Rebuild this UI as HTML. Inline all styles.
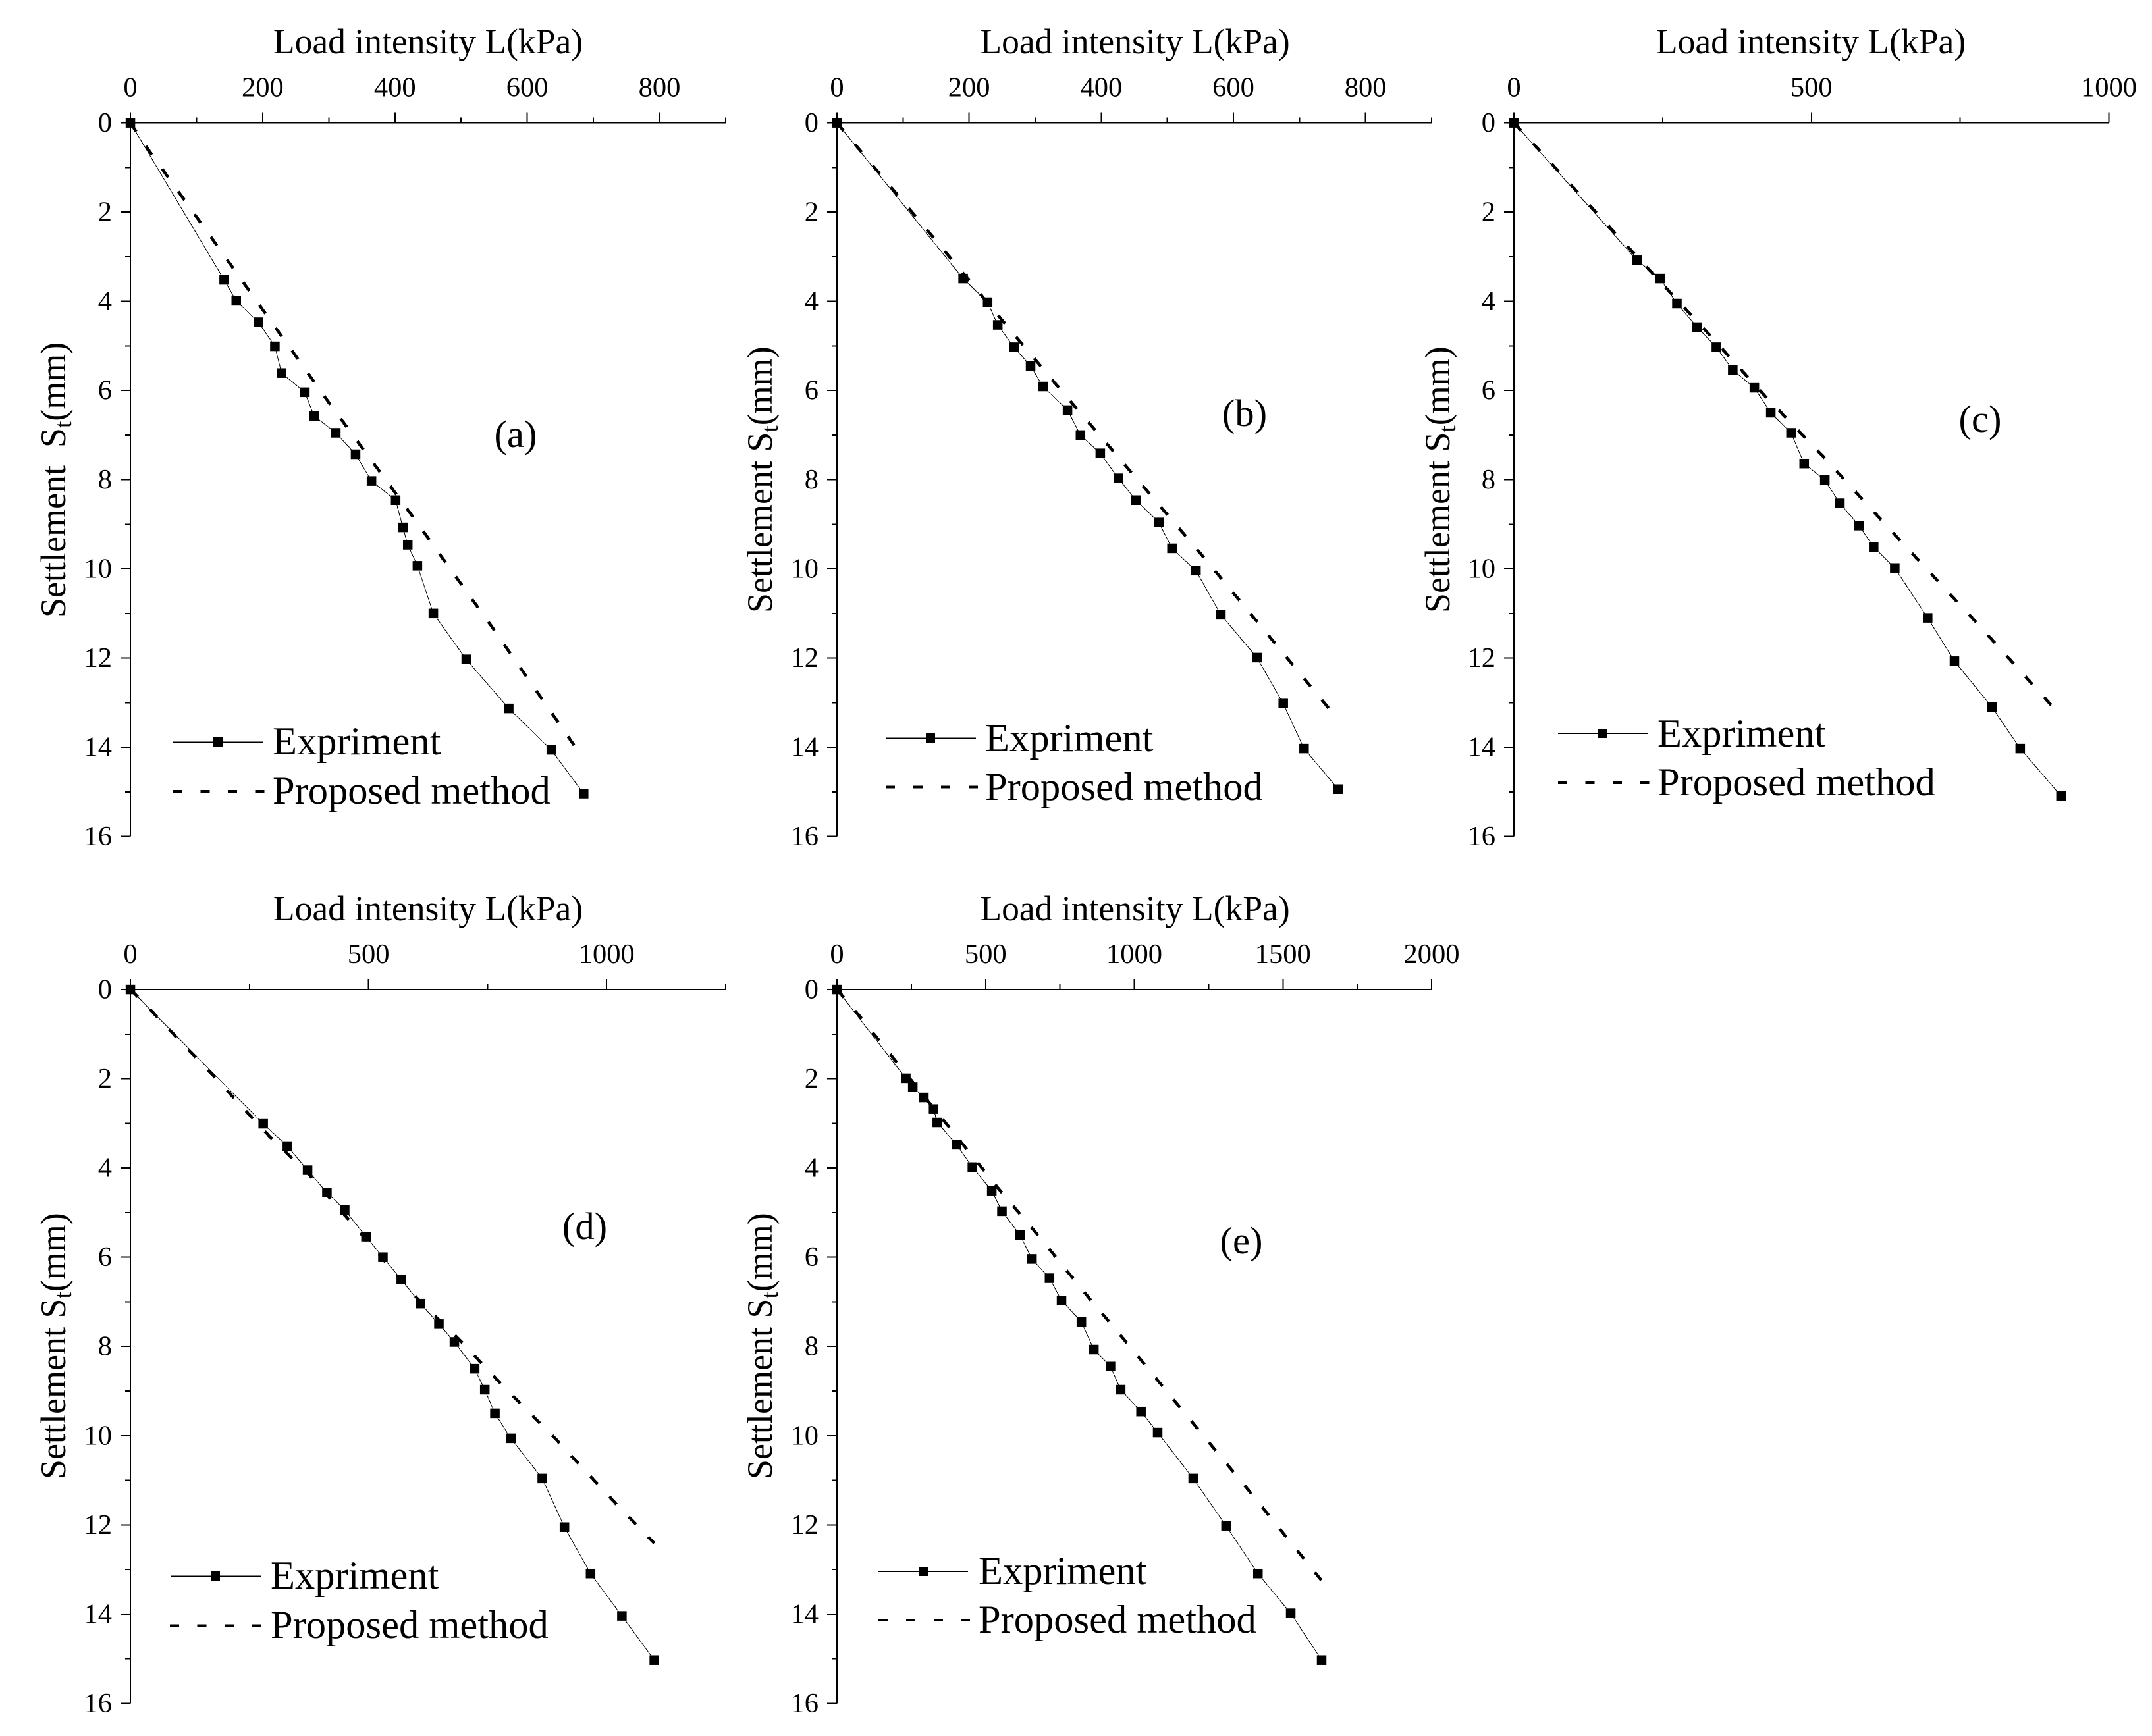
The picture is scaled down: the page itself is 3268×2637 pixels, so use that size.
<!DOCTYPE html>
<html lang="en">
<head>
<meta charset="utf-8">
<title>Load intensity versus settlement</title>
<style>
html,body{margin:0;padding:0;background:#fff;}
svg{display:block;}
text{font-family:"Liberation Serif",serif;fill:#000;white-space:pre;}
.title{font-size:53.6px;}
.ylabel{font-size:54px;}
.leg{font-size:60.5px;}
.tag{font-size:58.5px;}
.tick{font-size:42.5px;}
line,polyline{shape-rendering:crispEdges;}
</style>
</head>
<body>
<svg id="figure" xmlns="http://www.w3.org/2000/svg" width="3268" height="2637" viewBox="0 0 3268 2637">
  <rect x="0" y="0" width="3268" height="2637" fill="#fff"/>

  <g id="panel-a">
    <text class="title" x="650" y="81" text-anchor="middle">Load intensity L(kPa)</text>
    <text class="ylabel" transform="translate(99,938) rotate(-90)">Settlement  S<tspan dy="9" font-size="37">t</tspan><tspan dy="-9">(mm)</tspan></text>
    <text class="tag" x="783" y="679" text-anchor="middle">(a)</text>
    <g>
      <line x1="263" y1="1127" x2="400" y2="1127" stroke="#000" stroke-width="1.5"/>
      <rect x="324" y="1120" width="14" height="14" fill="#000"/>
      <text class="leg" x="414" y="1146">Expriment</text>
      <line x1="263" y1="1202" x2="402" y2="1202" stroke="#000" stroke-width="4.5" stroke-dasharray="14 27.5"/>
      <text class="leg" x="414" y="1221">Proposed method</text>
    </g>
  </g>

  <g id="panel-b">
    <text class="title" x="1723.5" y="81" text-anchor="middle">Load intensity L(kPa)</text>
    <text class="ylabel" transform="translate(1172,931) rotate(-90)">Settlement S<tspan dy="9" font-size="37">t</tspan><tspan dy="-9">(mm)</tspan></text>
    <text class="tag" x="1890" y="647" text-anchor="middle">(b)</text>
    <g>
      <line x1="1345" y1="1121" x2="1482" y2="1121" stroke="#000" stroke-width="1.5"/>
      <rect x="1406" y="1114" width="14" height="14" fill="#000"/>
      <text class="leg" x="1496" y="1141">Expriment</text>
      <line x1="1345" y1="1195.5" x2="1485" y2="1195.5" stroke="#000" stroke-width="3.6" stroke-dasharray="14 28"/>
      <text class="leg" x="1496" y="1215">Proposed method</text>
    </g>
  </g>

  <g id="panel-c">
    <text class="title" x="2750" y="81" text-anchor="middle">Load intensity L(kPa)</text>
    <text class="ylabel" transform="translate(2201,931) rotate(-90)">Settlement S<tspan dy="9" font-size="37">t</tspan><tspan dy="-9">(mm)</tspan></text>
    <text class="tag" x="3007" y="656" text-anchor="middle">(c)</text>
    <g>
      <line x1="2366" y1="1114" x2="2503" y2="1114" stroke="#000" stroke-width="1.5"/>
      <rect x="2427" y="1107" width="14" height="14" fill="#000"/>
      <text class="leg" x="2517" y="1134">Expriment</text>
      <line x1="2366" y1="1189" x2="2505" y2="1189" stroke="#000" stroke-width="3.6" stroke-dasharray="14 27.5"/>
      <text class="leg" x="2517" y="1208">Proposed method</text>
    </g>
  </g>

  <g id="panel-d">
    <text class="title" x="650" y="1398" text-anchor="middle">Load intensity L(kPa)</text>
    <text class="ylabel" transform="translate(99,2247) rotate(-90)">Settlement S<tspan dy="9" font-size="37">t</tspan><tspan dy="-9">(mm)</tspan></text>
    <text class="tag" x="888" y="1882" text-anchor="middle">(d)</text>
    <g>
      <line x1="260" y1="2394" x2="396" y2="2394" stroke="#000" stroke-width="1.5"/>
      <rect x="320" y="2387" width="14" height="14" fill="#000"/>
      <text class="leg" x="411" y="2413">Expriment</text>
      <line x1="258" y1="2469.5" x2="398" y2="2469.5" stroke="#000" stroke-width="4.5" stroke-dasharray="14 27.5"/>
      <text class="leg" x="411" y="2488">Proposed method</text>
    </g>
  </g>

  <g id="panel-e">
    <text class="title" x="1723.5" y="1398" text-anchor="middle">Load intensity L(kPa)</text>
    <text class="ylabel" transform="translate(1172,2247) rotate(-90)">Settlement S<tspan dy="9" font-size="37">t</tspan><tspan dy="-9">(mm)</tspan></text>
    <text class="tag" x="1885" y="1904" text-anchor="middle">(e)</text>
    <g>
      <line x1="1334" y1="2387" x2="1470" y2="2387" stroke="#000" stroke-width="1.5"/>
      <rect x="1395" y="2380" width="14" height="14" fill="#000"/>
      <text class="leg" x="1486" y="2406">Expriment</text>
      <line x1="1334" y1="2461" x2="1473" y2="2461" stroke="#000" stroke-width="3.6" stroke-dasharray="14 28"/>
      <text class="leg" x="1486" y="2480">Proposed method</text>
    </g>
  </g>
</svg>

<script>
/* Shared settlement axis */
const settlementTicks = [0, 2, 4, 6, 8, 10, 12, 14, 16];
const settlementMinorTicks = [1, 3, 5, 7, 9, 11, 13, 15];

/* Panel (a) */
const loadTicksA = [0, 200, 400, 600, 800];
const loadMinorTicksA = [100, 300, 500, 700, 900];
const expLoadA = [0, 141.7, 160, 193.6, 218.4, 228.6, 263.7, 277.6, 310.5, 340.4, 364.5, 401, 412, 419.3, 433.9, 458, 507.7, 572, 636.3, 685.2];
const expSettleA = [0, 3.52, 3.99, 4.47, 5.01, 5.61, 6.04, 6.57, 6.95, 7.43, 8.03, 8.46, 9.07, 9.46, 9.93, 11.0, 12.03, 13.13, 14.06, 15.04];
const proLoadA = [0, 29, 129, 300, 423, 546, 672];
const proSettleA = [0, 0.64, 2.71, 6.27, 8.75, 11.29, 13.98];

/* Panel (b) */
const loadTicksB = [0, 200, 400, 600, 800];
const loadMinorTicksB = [100, 300, 500, 700, 900];
const expLoadB = [0, 190.9, 228, 243.3, 267.8, 293, 311.8, 348.9, 368.5, 398.5, 425.8, 452.4, 487.3, 507, 543.3, 581, 635.6, 675.4, 706.9, 758.6];
const expSettleB = [0, 3.49, 4.02, 4.53, 5.03, 5.45, 5.91, 6.44, 7.0, 7.41, 7.97, 8.46, 8.96, 9.54, 10.04, 11.03, 11.99, 13.02, 14.03, 14.94];
const proLoadB = [0, 32.2, 142, 250.3, 330.7, 441, 551, 658, 745];
const proSettleB = [0, 0.57, 2.5, 4.43, 5.85, 7.76, 9.67, 11.58, 13.14];

/* Panel (c) */
const loadTicksC = [0, 500, 1000];
const loadMinorTicksC = [250, 750];
const expLoadC = [0, 206.8, 245.5, 273.9, 307.8, 340.2, 367.8, 404.1, 431.7, 465.7, 487.8, 522.5, 547.8, 580.1, 604.6, 640.1, 695.4, 740.4, 803.5, 850.9, 919.5];
const expSettleC = [0, 3.08, 3.49, 4.05, 4.58, 5.03, 5.54, 5.94, 6.5, 6.95, 7.64, 8.01, 8.53, 9.03, 9.51, 9.98, 11.1, 12.07, 13.1, 14.03, 15.09];
const proLoadC = [0, 39.5, 166.5, 324.4, 423, 517.8, 644, 774.3, 904];
const proSettleC = [0, 0.57, 2.42, 4.69, 6.14, 7.45, 9.29, 11.16, 13.07];

/* Panel (d) */
const loadTicksD = [0, 500, 1000];
const loadMinorTicksD = [250, 750, 1250];
const expLoadD = [0, 278.8, 329.5, 372, 412.6, 450, 494.7, 530.2, 568.7, 609.3, 647.8, 680.3, 722.9, 744.1, 765.4, 798.9, 864.8, 911.4, 966.2, 1032, 1100];
const expSettleD = [0, 3.01, 3.51, 4.05, 4.55, 4.94, 5.54, 6.0, 6.5, 7.04, 7.5, 7.9, 8.5, 8.97, 9.5, 10.06, 10.96, 12.05, 13.09, 14.04, 15.03];
const proLoadD = [0, 48.7, 170.3, 291, 375, 451, 608, 689, 775.6, 897, 1019, 1100];
const proSettleD = [0, 0.53, 1.89, 3.28, 4.15, 5.07, 6.99, 7.83, 8.81, 10.12, 11.52, 12.41];

/* Panel (e) */
const loadTicksE = [0, 500, 1000, 1500, 2000];
const loadMinorTicksE = [250, 750, 1250, 1750];
const expLoadE = [0, 231.5, 254.9, 292.2, 324.8, 337.2, 402.5, 455.3, 520.6, 554.8, 615.4, 655.8, 714.8, 755.2, 822, 864, 920, 954.2, 1022.5, 1078.5, 1198, 1308.5, 1415.7, 1526, 1630];
const expSettleE = [0, 1.99, 2.19, 2.42, 2.68, 2.98, 3.48, 3.98, 4.51, 4.97, 5.5, 6.04, 6.47, 6.97, 7.45, 8.07, 8.45, 8.97, 9.46, 9.93, 10.96, 12.02, 13.09, 13.98, 15.03];
const proLoadE = [0, 71.5, 191, 366.7, 545.5, 670, 848.5, 965, 1144, 1385, 1556, 1629];
const proSettleE = [0, 0.56, 1.55, 3.0, 4.48, 5.46, 6.92, 7.84, 9.29, 11.23, 12.64, 13.24];

const SVG_NS = 'http://www.w3.org/2000/svg';
const SETTLE_MAX = 16;

function makeEl(parent, tag, attrs) {
  const el = document.createElementNS(SVG_NS, tag);
  for (const key in attrs) el.setAttribute(key, attrs[key]);
  parent.appendChild(el);
  return el;
}

function drawPanel(id, frame, ticks, minorTicks, yTicks, yMinorTicks, expLoad, expSettle, proLoad, proSettle) {
  const root = document.getElementById(id);
  const xScale = v => frame.left + (v / frame.loadMax) * (frame.right - frame.left);
  const yScale = v => frame.top + (v / SETTLE_MAX) * (frame.bottom - frame.top);

  const axes = makeEl(root, 'g', {});
  
  

  const xAxis = makeEl(axes, 'line', { x1: frame.left, y1: frame.top, x2: frame.right, y2: frame.top, stroke: '#000', 'stroke-width': 2 });
  
  

  const yAxis = makeEl(axes, 'line', { x1: frame.left, y1: frame.top, x2: frame.left, y2: frame.bottom, stroke: '#000', 'stroke-width': 2 });
  
  

  ticks.forEach(v => {
    const t = makeEl(axes, 'line', { x1: xScale(v), y1: frame.top, x2: xScale(v), y2: frame.top - 16, stroke: '#000', 'stroke-width': 2 });
    
    
    const label = makeEl(axes, 'text', { class: 'tick', x: xScale(v), y: frame.top - 40, 'text-anchor': 'middle' });
    label.textContent = String(v);
    
    
  });

  minorTicks.forEach(v => {
    const t = makeEl(axes, 'line', { x1: xScale(v), y1: frame.top, x2: xScale(v), y2: frame.top - 8, stroke: '#000', 'stroke-width': 2 });
    
    
  });

  yTicks.forEach(v => {
    const t = makeEl(axes, 'line', { x1: frame.left, y1: yScale(v), x2: frame.left - 15, y2: yScale(v), stroke: '#000', 'stroke-width': 2 });
    
    
    const label = makeEl(axes, 'text', { class: 'tick', x: frame.left - 28, y: yScale(v) + 13.5, 'text-anchor': 'end' });
    label.textContent = String(v);
    
    
  });

  yMinorTicks.forEach(v => {
    const t = makeEl(axes, 'line', { x1: frame.left, y1: yScale(v), x2: frame.left - 8, y2: yScale(v), stroke: '#000', 'stroke-width': 2 });
    
    
  });

  const proPoints = proLoad.map((v, i) => xScale(v) + ',' + yScale(proSettle[i])).join(' ');
  const proLine = makeEl(root, 'polyline', { points: proPoints, fill: 'none', stroke: '#000', 'stroke-width': 4.6, 'stroke-dasharray': '16 26.4' });
  
  

  const expPoints = expLoad.map((v, i) => xScale(v) + ',' + yScale(expSettle[i])).join(' ');
  const expLine = makeEl(root, 'polyline', { points: expPoints, fill: 'none', stroke: '#000', 'stroke-width': 1 });
  
  

  expLoad.forEach((v, i) => {
    const marker = makeEl(root, 'rect', { x: xScale(v) - 7.2, y: yScale(expSettle[i]) - 7.2, width: 14.5, height: 14.5, fill: '#000' });
    
    
  });
}

drawPanel('panel-a', { left: 198, right: 1102, top: 186.6, bottom: 1270.5, loadMax: 900 }, loadTicksA, loadMinorTicksA, settlementTicks, settlementMinorTicks, expLoadA, expSettleA, proLoadA, proSettleA);
drawPanel('panel-b', { left: 1271, right: 2174, top: 186.6, bottom: 1270.5, loadMax: 900 }, loadTicksB, loadMinorTicksB, settlementTicks, settlementMinorTicks, expLoadB, expSettleB, proLoadB, proSettleB);
drawPanel('panel-c', { left: 2299, right: 3202.5, top: 186.6, bottom: 1270.5, loadMax: 1000 }, loadTicksC, loadMinorTicksC, settlementTicks, settlementMinorTicks, expLoadC, expSettleC, proLoadC, proSettleC);
drawPanel('panel-d', { left: 198, right: 1102, top: 1503, bottom: 2587.4, loadMax: 1250 }, loadTicksD, loadMinorTicksD, settlementTicks, settlementMinorTicks, expLoadD, expSettleD, proLoadD, proSettleD);
drawPanel('panel-e', { left: 1271, right: 2174, top: 1503, bottom: 2587.4, loadMax: 2000 }, loadTicksE, loadMinorTicksE, settlementTicks, settlementMinorTicks, expLoadE, expSettleE, proLoadE, proSettleE);
</script>
</body>
</html>
